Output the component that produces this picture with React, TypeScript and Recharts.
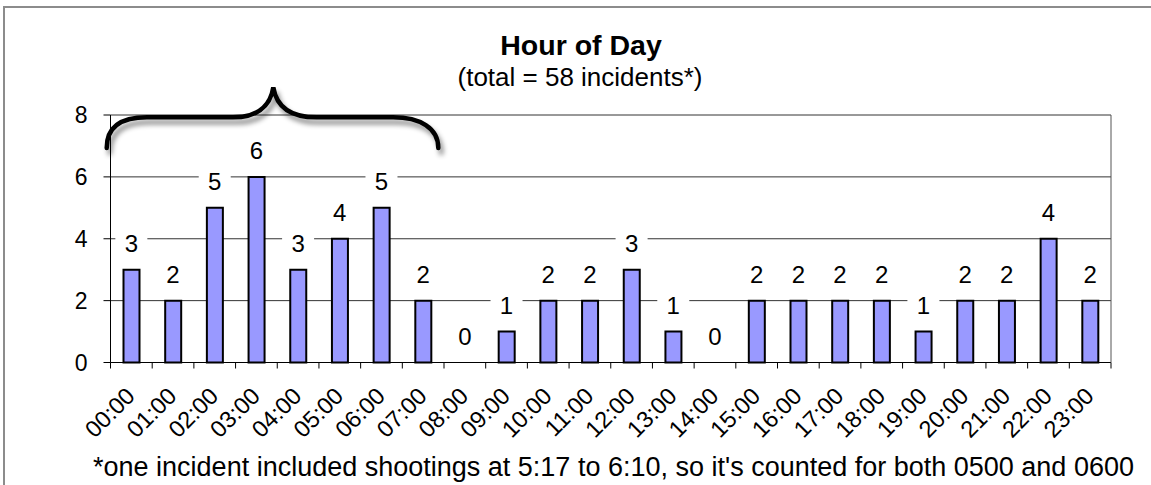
import { ComposedChart, Bar, Line, XAxis, YAxis, CartesianGrid, LabelList } from 'recharts';

const hours = [
  '00:00', '01:00', '02:00', '03:00', '04:00', '05:00', '06:00', '07:00',
  '08:00', '09:00', '10:00', '11:00', '12:00', '13:00', '14:00', '15:00',
  '16:00', '17:00', '18:00', '19:00', '20:00', '21:00', '22:00', '23:00',
];
const incidents = [3, 2, 5, 6, 3, 4, 5, 2, 0, 1, 2, 2, 3, 1, 0, 2, 2, 2, 2, 1, 2, 2, 4, 2];
const yTicks = [0, 2, 4, 6, 8];

const W = 1151;
const H = 485;
const M = { top: 115, right: 40, bottom: 42.5, left: 0 };
const Y_AXIS_W = 110.5;
const PLOT_LEFT = M.left + Y_AXIS_W;
const PLOT_RIGHT = W - M.right;
const PLOT_BOTTOM = H - M.bottom - 80;
const STEP = (PLOT_RIGHT - PLOT_LEFT) / hours.length;
const FONT = '"Liberation Sans", Arial, sans-serif';

const data = hours.map((h, i) => ({ hour: h, count: incidents[i] }));

// excel-style ticks sit between categories, labels hang off at 45deg
const HourTick = ({ x, y, payload, index }: any) => {
  const left = x - STEP / 2;
  return (
    <g>
      <line x1={left} y1={y - 6} x2={left} y2={y} stroke="#000" />
      {index === hours.length - 1 && (
        <line x1={x + STEP / 2} y1={y - 6} x2={x + STEP / 2} y2={y} stroke="#000" />
      )}
      <text
        transform={`translate(${x + 5},${y + 29}) rotate(-45)`}
        textAnchor="end"
        fontSize={23.5}
        fontFamily={FONT}
        fill="#000"
      >
        {payload.value}
      </text>
    </g>
  );
};

// value label with a white box that knocks out the gridline behind it
const PointValue = ({ x, y, value }: any) => (
  <g>
    <rect x={x - 16} y={y - 38} width={32} height={25} fill="#fff" />
    <text x={x} y={y - 17.5} textAnchor="middle" fontSize={24} fontFamily={FONT} fill="#000">
      {value}
    </text>
  </g>
);

export default function App() {
  return (
    <div style={{ position: 'absolute', left: 0, top: 0, width: W, height: H, background: '#fff', overflow: 'hidden' }}>
      <div style={{ position: 'absolute', left: 3, top: 6, width: W + 20, height: H + 20, borderLeft: '2px solid #8c8c8c', borderTop: '2px solid #8c8c8c' }} />
      <div style={{ position: 'absolute', left: 0, top: 0 }}>
        <ComposedChart width={W} height={H} data={data} margin={M}>
          <CartesianGrid vertical={false} stroke="#333" strokeWidth={1} />
          <XAxis
            dataKey="hour"
            height={80}
            interval={0}
            tickLine={false}
            tickSize={6}
            tickMargin={0}
            tick={<HourTick />}
            axisLine={{ stroke: '#000', strokeWidth: 1 }}
          />
          <YAxis
            width={Y_AXIS_W}
            domain={[0, 8]}
            ticks={yTicks}
            tickSize={7}
            tickMargin={16}
            tick={{ fill: '#000', fontSize: 23, fontFamily: FONT }}
            tickLine={{ stroke: '#000' }}
            axisLine={{ stroke: '#000' }}
          />
          <Bar dataKey="count" fill="#9999FF" stroke="#000" strokeWidth={2} barSize={16} isAnimationActive={false} />
          <Line dataKey="count" stroke="none" dot={false} activeDot={false} isAnimationActive={false}>
            <LabelList dataKey="count" content={<PointValue />} />
          </Line>
        </ComposedChart>
      </div>
      <svg width={W} height={H} style={{ position: 'absolute', left: 0, top: 0, pointerEvents: 'none' }}>
        <defs>
          <filter id="braceShadow" x="-10%" y="-30%" width="120%" height="180%">
            <feDropShadow dx="3" dy="5" stdDeviation="2.5" floodColor="#000" floodOpacity="0.45" />
          </filter>
        </defs>
        <line x1={PLOT_RIGHT} y1={M.top} x2={PLOT_RIGHT} y2={PLOT_BOTTOM} stroke="#555" />
        <text x={581} y={55} textAnchor="middle" fontSize={28.5} fontWeight="bold" fontFamily={FONT} fill="#000">
          Hour of Day
        </text>
        <text x={580} y={86} textAnchor="middle" fontSize={26} fontFamily={FONT} fill="#000">
          (total = 58 incidents*)
        </text>
        <path
          d="M106.7,148 C106.7,128 120,117.3 147,117.3 L233,117.3 C255,117.3 270,108 273.3,87.3 C276.7,108 291.7,117.3 316.7,117.3 L393,117.3 C420,117.3 438.3,128 438.3,148"
          fill="none"
          stroke="#000"
          strokeWidth={4.5}
          strokeLinecap="round"
          filter="url(#braceShadow)"
        />
        <text x={613.5} y={476} textAnchor="middle" fontSize={27} fontFamily={FONT} fill="#000">
          *one incident included shootings at 5:17 to 6:10, so it's counted for both 0500 and 0600
        </text>
      </svg>
    </div>
  );
}
